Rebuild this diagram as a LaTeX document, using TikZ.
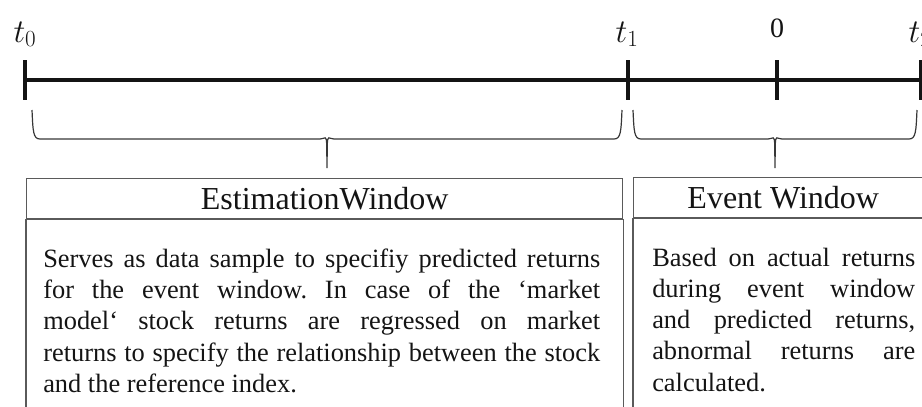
\documentclass[tikz,border=0pt]{standalone}
\usepackage{fontspec}
\setmainfont{Liberation Serif}
\usetikzlibrary{calc}
\definecolor{boxgray}{RGB}{90,90,90}
\definecolor{bracegray}{RGB}{55,55,55}
\definecolor{inkblack}{RGB}{20,20,20}
\hyphenpenalty=10000
\frenchspacing

\tikzset{
  headbox/.style={draw=boxgray,line width=1.1pt,minimum height=30pt,inner sep=0pt,
    anchor=north west,text=inkblack,font=\fontsize{24pt}{28pt}\selectfont},
  bodytext/.style={inner sep=0pt,anchor=north west,align=justify,text=inkblack,
    font=\fontsize{19.8pt}{23.44pt}\selectfont},
  boxline/.style={draw=boxgray,line width=1.1pt},
  tlabel/.style={anchor=base,text=inkblack,font=\fontsize{26pt}{30pt}\selectfont}
}

\begin{document}
\begin{tikzpicture}[x=0.75pt,y=-0.75pt]
  \useasboundingbox (0,0) rectangle (922,407);
  \clip (0,0) rectangle (922,407);
  % time line:
  \coordinate (T0) at (25,80);
  \coordinate (T1) at (628,80);
  \coordinate (E0) at (777,80);
  \coordinate (T2) at (921,80);
  \draw[line width=2.6pt,inkblack] (T0) -- ($(T2)+(20,0)$);
  \foreach \p in {T0,T1,E0,T2}
     \draw[line width=2.6pt,inkblack] ($(\p)+(0,-20)$) -- ($(\p)+(0,20)$);
  \node[tlabel] (lt0) at (25,42) {$t_0$};
  \node[tlabel] (lt1) at (627,42) {$t_1$};
  \node[tlabel,font=\fontsize{21pt}{25pt}\selectfont] (lev) at (777,37) {0};
  \node[tlabel] (lt2) at (920,42) {$t_2$};

  % braces:
  \foreach \a/\b in {32/622, 633/917}{
     \pgfmathsetmacro\m{(\a+\b)/2}
     \draw[bracegray,line width=0.9pt] (\a,110) .. controls (\a+1,131) and (\a+1,139) .. (\a+8,139)
        -- (\m-7,139) .. controls (\m-2,139) and (\m-0.5,134) .. (\m-0.3,145) -- (\m,168)
        -- (\m+0.3,145) .. controls (\m+0.5,134) and (\m+2,139) .. (\m+7,139)
        -- (\b-8,139) .. controls (\b-1,139) and (\b-1,131) .. (\b,110);
  }

  % windows:
  \node[headbox,minimum width=447pt] (esthead) at (26,178) {EstimationWindow};
  \node[headbox,minimum width=224.25pt] (evhead) at (633,177) {Event Window};
  \draw[boxline] (esthead.south west) rectangle ($(esthead.south east)+(0,250)$);
  \draw[boxline] (evhead.south west) rectangle ($(evhead.south east)+(0,250)$);
  \node[bodytext,text width=417.75pt] (esttext) at ($(esthead.south west)+(17,29)$)
     {Serves as data sample to specifiy predicted returns\linebreak
      for the event window. In case of the ‘market\linebreak
      model‘ stock returns are regressed on market\linebreak
      returns to specify the relationship between the stock\linebreak
      and the reference index.};
  \node[bodytext,text width=197.25pt] (evtext) at ($(evhead.south west)+(19,29)$)
     {Based on actual returns\linebreak
      during event window\linebreak
      and predicted returns,\linebreak
      abnormal returns are\linebreak
      calculated.};
\end{tikzpicture}
\end{document}
